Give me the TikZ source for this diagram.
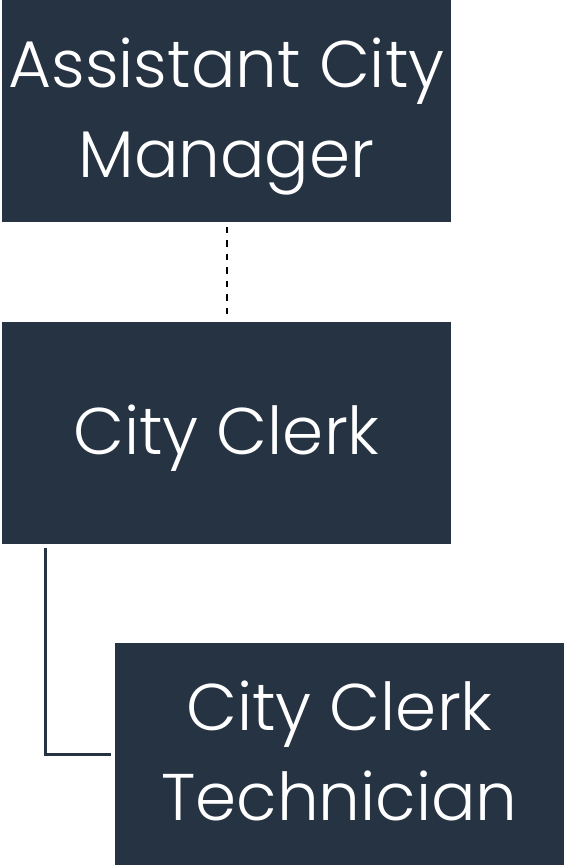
\documentclass[tikz,border=0pt]{standalone}
\usepackage{fontspec}
\setmainfont{Poppins Light}
\usetikzlibrary{positioning, calc}
\definecolor{cnavy}{HTML}{263343}
\definecolor{cdash}{HTML}{000000}
\newcommand{\uprule}{\rule{0pt}{63pt}}
\newcommand{\downrule}{\rule[-20pt]{0pt}{20pt}}
\tikzset{
  every picture/.style={line width=1.2pt},
  post/.style={fill=cnavy, text=white, align=center, inner sep=0pt,
    minimum width=449pt, minimum height=222pt, font=\fontsize{66}{90}\selectfont},
  link/.style={draw=cnavy, line width=2.2pt},
  dotlink/.style={draw=cdash, line width=2pt, dash pattern=on 6.5pt off 7pt},
}

\begin{document}
\begin{tikzpicture}[x=1pt, y=-1pt]
  \useasboundingbox (0,0) rectangle (564,866);
  \node[post] (acm) at (226.5,111) {\uprule Assistant City\\Manager\downrule};
  \node[post, below=99pt of acm] (clerk) {\uprule City Clerk\downrule};
  \node[post, below=98pt of clerk, xshift=113pt] (tech) {\uprule City Clerk\\Technician\downrule};
  % reporting lines
  \draw[dotlink] ([yshift=-4pt]acm.south) -- ([yshift=4pt]clerk.north);
  \draw[link] ([xshift=44pt, yshift=-3pt]clerk.south west) |- ([xshift=-3pt]tech.west);
\end{tikzpicture}
\end{document}
